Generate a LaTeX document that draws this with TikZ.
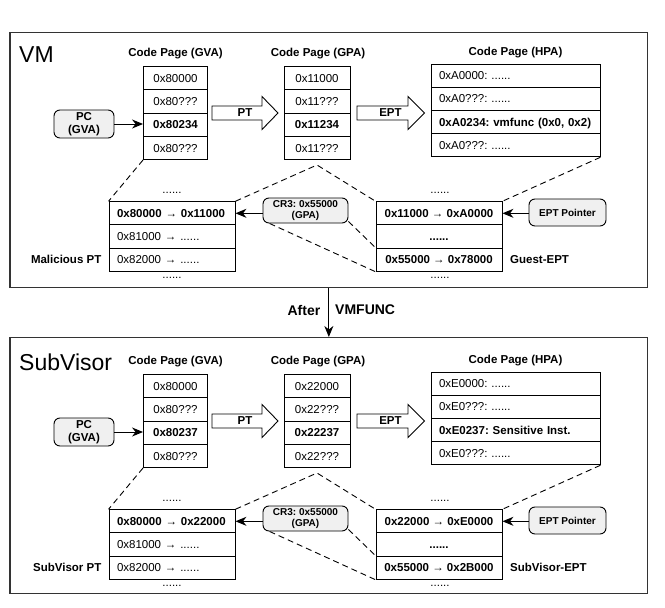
\documentclass[tikz,border=0pt]{standalone}
\usepackage{fontspec}
\setmainfont{Liberation Sans}
\usetikzlibrary{arrows.meta,calc}
\frenchspacing
\tikzset{
  frame/.style={draw=black!80, line width=1.4pt, inner sep=0pt},
  cell/.style={draw, line width=0.9pt, inner sep=0pt, minimum height=23.2pt, text height=8.2pt, text depth=0pt, font=\fontsize{11.5}{13}\selectfont},
  ccell/.style={cell, align=center},
  lcell/.style={cell, inner xsep=8pt, text width=#1, align=left},
  title/.style={font=\fontsize{11.5}{13}\selectfont\bfseries, inner sep=0pt},
  tag/.style={draw, line width=0.9pt, rounded corners=6pt, fill=black!6, align=center, inner sep=0pt, font=\fontsize{10}{11}\selectfont\bfseries},
  dashline/.style={line width=0.9pt, dash pattern=on 6pt off 4pt},
  ptr/.style={line width=1pt, -{Stealth[length=11pt,width=9pt,inset=3.5pt]}},
  blockarr/.style={draw, line width=0.9pt, fill=white},
  arrlabel/.style={font=\fontsize{11.5}{13}\selectfont\bfseries, inner sep=0pt},
  dots/.style={font=\fontsize{11.5}{13}\selectfont, inner sep=0pt, anchor=base},
  side/.style={font=\fontsize{11.5}{13}\selectfont\bfseries, inner sep=0pt},
  bigname/.style={font=\fontsize{23}{26}\selectfont, inner sep=0pt, anchor=base west},
  afterlbl/.style={font=\fontsize{14}{16}\selectfont\bfseries, inner sep=0pt},
}
\newcommand{\drawpanel}[2]{%
\begin{scope}[yshift=-#2pt]
\node[bigname] (#1name) at (19,62) {\PanelName};
\node[title] (#1tgva) at (175.5,54) {Code Page (GVA)};
\node[title] (#1tgpa) at (318,54) {Code Page (GPA)};
\node[title] (#1thpa) at (515.5,53) {Code Page (HPA)};
% GVA page
\node[ccell, minimum width=64pt] (#1gva1) at (175.5,78.3) {\gvaA};
\node[ccell, minimum width=64pt] (#1gva2) at (175.5,101.5) {\gvaB};
\node[ccell, minimum width=64pt] (#1gva3) at (175.5,124.7) {\gvaC};
\node[ccell, minimum width=64pt] (#1gva4) at (175.5,147.9) {\gvaD};
% GPA page
\node[ccell, minimum width=66pt] (#1gpa1) at (317,78.3) {\gpaA};
\node[ccell, minimum width=66pt] (#1gpa2) at (317,101.5) {\gpaB};
\node[ccell, minimum width=66pt] (#1gpa3) at (317,124.7) {\gpaC};
\node[ccell, minimum width=66pt] (#1gpa4) at (317,147.9) {\gpaD};
% HPA page
\node[lcell=153pt] (#1hpa1) at (515.5,75.6) {\mbox{\hpaA}};
\node[lcell=153pt] (#1hpa2) at (515.5,98.8) {\mbox{\hpaB}};
\node[lcell=153pt] (#1hpa3) at (515.5,122.0) {\mbox{\hpaC}};
\node[lcell=153pt] (#1hpa4) at (515.5,145.2) {\mbox{\hpaD}};
% block arrows
\draw[blockarr] (212,106) -- (262,106) -- (262,96.5) -- (278,113) -- (262,129.5) -- (262,120) -- (212,120) -- cycle;
\node[arrlabel] (#1ptlbl) at (245,113) {PT};
\draw[blockarr] (357,106) -- (408,106) -- (408,96.5) -- (424.5,113) -- (408,129.5) -- (408,120) -- (357,120) -- cycle;
\node[arrlabel] (#1eptlbl) at (390.5,113) {EPT};
% PC
\node[tag, minimum width=60pt, minimum height=28pt, font=\fontsize{11.5}{13.5}\selectfont\bfseries] (#1pc) at (84,124) {PC\\(GVA)};
\draw[ptr] (#1pc.east) -- (#1pc.east -| #1gva3.west);
% page table
\node[lcell=110pt] (#1pt1) at (172,213.3) {\mbox{\ptA}};
\node[lcell=110pt] (#1pt2) at (172,236.5) {\mbox{\ptB}};
\node[lcell=110pt] (#1pt3) at (172,259.7) {\mbox{\ptC}};
\node[dots] (#1ptdu) at (172,193) {......};
\node[dots] (#1ptdd) at (172,278.5) {......};
\node[side, anchor=east] (#1ptname) at (101.5,259.7) {\ptName};
% EPT
\node[ccell, minimum width=126pt] (#1ept1) at (439,213.3) {\eptA};
\node[ccell, minimum width=126pt] (#1ept2) at (439,236.5) {\eptB};
\node[ccell, minimum width=126pt] (#1ept3) at (439,259.7) {\eptC};
\node[dots] (#1eptdu) at (440,193.5) {......};
\node[dots] (#1eptdd) at (440,278.5) {......};
\node[side, anchor=west] (#1eptname) at (510,259.7) {\eptName};
% CR3 and EPT pointer
\node[tag, minimum width=85pt, minimum height=25pt] (#1cr3) at (305.5,210.5) {CR3: 0x55000\\(GPA)};
\draw[ptr] (#1cr3.west |- #1pt1) -- (#1pt1.east);
\node[tag, minimum width=77pt, minimum height=27pt] (#1eptp) at (567.5,212.5) {EPT Pointer};
\draw[ptr] (#1eptp.west |- #1ept1) -- (#1ept1.east);
% dashed zoom lines
\coordinate (#1apex) at (317,165);
\draw[dashline] (#1gva4.south west) -- (#1pt1.north west);
\draw[dashline] (#1pt1.north east) -- (#1apex) -- (#1ept1.north west);
\draw[dashline] ($(#1cr3.south west)+(7,0)$) -- (#1ept3.south west);
\draw[dashline] ($(#1cr3.south east)+(0,-2)$) -- (#1ept3.north west);
\draw[dashline] (#1hpa4.south east) -- (#1ept1.north east);
\end{scope}}
\begin{document}
\begin{tikzpicture}[x=1pt,y=-1pt]
\useasboundingbox (0,0) rectangle (665,608);
\fill[white] (0,0) rectangle (665,608);
\node[frame, anchor=north west, minimum width=637.7pt, minimum height=255.3pt] (vmframe) at (9.3,31.7) {};
\node[frame, anchor=north west, minimum width=637.7pt, minimum height=255.7pt] (svframe) at (9.3,337) {};
\draw[ptr] (vmframe.south) -- (svframe.north);
\node[afterlbl, anchor=east] (after) at (320.5,310) {After};
\node[afterlbl, anchor=west] (vmfunc) at (335,310) {VMFUNC};
% top panel
\def\PanelName{VM}
\def\gvaA{0x80000}\def\gvaB{0x80???}\def\gvaC{\textbf{0x80234}}\def\gvaD{0x80???}
\def\gpaA{0x11000}\def\gpaB{0x11???}\def\gpaC{\textbf{0x11234}}\def\gpaD{0x11???}
\def\hpaA{0xA0000: ......}\def\hpaB{0xA0???: ......}\def\hpaC{\textbf{0xA0234: vmfunc (0x0, 0x2)}}\def\hpaD{0xA0???: ......}
\def\ptA{\textbf{0x80000 → 0x11000}}\def\ptB{0x81000 → ......}\def\ptC{0x82000 → ......}
\def\eptA{\textbf{0x11000 → 0xA0000}}\def\eptB{\textbf{......}}\def\eptC{\textbf{0x55000 → 0x78000}}
\def\ptName{Malicious PT}\def\eptName{Guest-EPT}
\drawpanel{t}{0}
% bottom panel
\def\PanelName{SubVisor}
\def\gvaA{0x80000}\def\gvaB{0x80???}\def\gvaC{\textbf{0x80237}}\def\gvaD{0x80???}
\def\gpaA{0x22000}\def\gpaB{0x22???}\def\gpaC{\textbf{0x22237}}\def\gpaD{0x22???}
\def\hpaA{0xE0000: ......}\def\hpaB{0xE0???: ......}\def\hpaC{\textbf{0xE0237: Sensitive Inst.}}\def\hpaD{0xE0???: ......}
\def\ptA{\textbf{0x80000 → 0x22000}}\def\ptB{0x81000 → ......}\def\ptC{0x82000 → ......}
\def\eptA{\textbf{0x22000 → 0xE0000}}\def\eptB{\textbf{......}}\def\eptC{\textbf{0x55000 → 0x2B000}}
\def\ptName{SubVisor PT}\def\eptName{SubVisor-EPT}
\drawpanel{b}{308}
\end{tikzpicture}
\end{document}
